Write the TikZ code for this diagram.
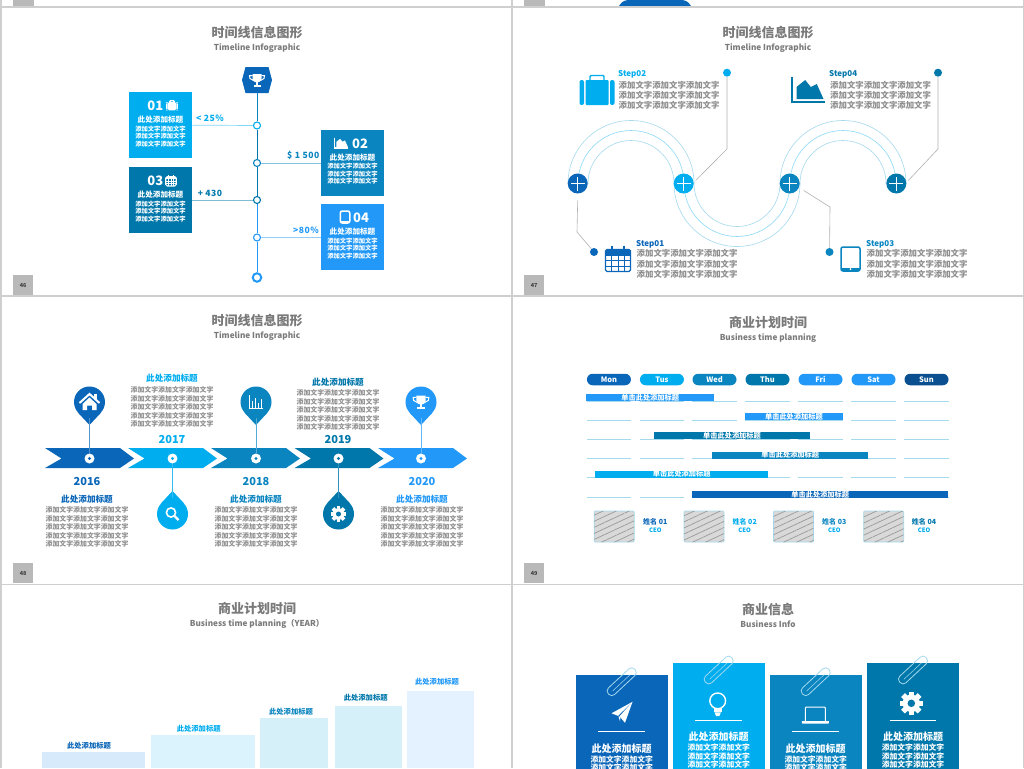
\documentclass[tikz,border=0pt]{standalone}
\usepackage{fontspec}
\setmainfont{Noto Sans CJK SC}
\usetikzlibrary{arrows.meta, calc, patterns.meta, shapes.misc}

\definecolor{blueone}{HTML}{0A66B8}
\definecolor{bluetwo}{HTML}{00ADEF}
\definecolor{bluethree}{HTML}{0A85C0}
\definecolor{bluefour}{HTML}{0077AA}
\definecolor{bluefive}{HTML}{2299F8}
\definecolor{bluesix}{HTML}{0A4F8F}
\definecolor{rimblue}{HTML}{A5D9EE}
\definecolor{pagegray}{HTML}{CFCFCF}
\definecolor{headgray}{HTML}{7A7A7A}
\definecolor{fillgray}{HTML}{8E8E8E}
\definecolor{colone}{HTML}{D6EAFB}
\definecolor{coltwo}{HTML}{DBF3FD}
\definecolor{colthree}{HTML}{D6F0FA}
\definecolor{colfive}{HTML}{E3F2FE}

\newcommand{\txtsize}[1]{\fontsize{#1}{#1}\selectfont\bfseries}
\newcommand{\rowtxt}{添加文字添加文字添加文字}
\newcommand{\shortrow}{添加文字添加文字}
\newcommand{\threerows}{\rowtxt\\\rowtxt\\\rowtxt}
\newcommand{\fiverows}{\rowtxt\\\rowtxt\\\rowtxt\\\rowtxt\\\rowtxt}
\newcommand{\shortrows}{\shortrow\\\shortrow\\\shortrow}
\newcommand{\tworows}{\shortrow\\\shortrow}
\newcommand{\headtxt}{此处添加标题}

% small icons, all given as x, y, scale, colour
\newcommand{\trophyicon}[4]{\begin{scope}[shift={(#1,#2)},scale=#3,fill=#4,draw=#4]
  \fill (-4.5,-6) -- (4.5,-6) -- (4.5,-2) .. controls (4.5,1.5) and (2,2.5) .. (0,2.5) .. controls (-2,2.5) and (-4.5,1.5) .. (-4.5,-2) -- cycle;
  \draw[line width=1pt] (-4.5,-4.5) -- (-7.5,-4.5) -- (-7,-1.5) -- (-3.5,0.5);
  \draw[line width=1pt] (4.5,-4.5) -- (7.5,-4.5) -- (7,-1.5) -- (3.5,0.5);
  \fill (-1,2) rectangle (1,5);
  \fill (-3.5,5) rectangle (3.5,6.8);
\end{scope}}
\newcommand{\caseicon}[4]{\begin{scope}[shift={(#1,#2)},scale=#3,fill=#4,draw=#4]
  \fill[rounded corners=2pt] (-17.5,-10) rectangle (-13,15);
  \fill[rounded corners=1pt] (-11.5,-10) rectangle (11.5,15);
  \fill[rounded corners=2pt] (13,-10) rectangle (17.5,15);
  \draw[line width=1.4pt,rounded corners=1pt] (-7,-10) -- (-7,-14.5) -- (7,-14.5) -- (7,-10);
\end{scope}}
\newcommand{\charticon}[4]{\begin{scope}[shift={(#1,#2)},scale=#3,fill=#4,draw=#4]
  \draw[line width=1.1pt] (-16.5,-13) -- (-16.5,12) -- (16.5,12);
  \fill (-12,9) -- (-12,-3) -- (-3.3,-10) -- (2.3,-3) -- (8.3,-6) -- (15,9) -- cycle;
\end{scope}}
\newcommand{\calicon}[4]{\begin{scope}[shift={(#1,#2)},scale=#3,fill=#4,draw=#4]
  \draw[line width=1.1pt,rounded corners=1.5pt] (-12.5,-9) rectangle (12.5,13);
  \fill (-12.5,-9) rectangle (12.5,-3);
  \foreach \gx in {-6.2,0,6.2} \draw[line width=.7pt] (\gx,-3) -- (\gx,13);
  \foreach \gy in {2.3,7.6} \draw[line width=.7pt] (-12.5,\gy) -- (12.5,\gy);
  \draw[line width=1.2pt] (-6,-13) -- (-6,-7);
  \draw[line width=1.2pt] (6,-13) -- (6,-7);
\end{scope}}
\newcommand{\padicon}[4]{\begin{scope}[shift={(#1,#2)},scale=#3,fill=#4,draw=#4]
  \draw[line width=1.5pt,rounded corners=2pt] (-9.5,-12) rectangle (9.5,12);
  \fill (-9.5,8.5) rectangle (9.5,12);
  \fill[white] (0,10.2) circle (1pt);
\end{scope}}
\newcommand{\houseicon}[4]{\begin{scope}[shift={(#1,#2)},scale=#3,fill=#4,draw=#4]
  \draw[line width=2pt] (-10,1) -- (0,-8) -- (10,1);
  \fill (-7,2) -- (0,-4.5) -- (7,2) -- (7,8) -- (2.5,8) -- (2.5,3.5) -- (-2.5,3.5) -- (-2.5,8) -- (-7,8) -- cycle;
  \fill (4,-8) rectangle (7,-3);
\end{scope}}
\newcommand{\barsicon}[4]{\begin{scope}[shift={(#1,#2)},scale=#3,fill=#4,draw=#4]
  \draw[line width=.6pt] (-7,-7) -- (-7,6.5) -- (7,6.5);
  \fill (-4.5,-1) rectangle (-2.7,5.5);
  \fill (-1.5,-4) rectangle (.3,5.5);
  \fill (1.5,1) rectangle (3.3,5.5);
  \fill (4.5,-3) rectangle (6.3,5.5);
\end{scope}}
\newcommand{\lensicon}[4]{\begin{scope}[shift={(#1,#2)},scale=#3,fill=#4,draw=#4]
  \draw[line width=1.6pt] (-1.5,-1.5) circle (4.6pt);
  \draw[line width=2.2pt] (2,2) -- (6,6);
\end{scope}}
\newcommand{\gearicon}[5]{\begin{scope}[shift={(#1,#2)},scale=#3,fill=#4,draw=#4]
  \foreach \ga in {0,45,...,315} \fill[rotate=\ga] (-1.8,-7.8) rectangle (1.8,-4);
  \fill (0,0) circle (5.8pt);
  \fill[#5] (0,0) circle (2.5pt);
\end{scope}}
\newcommand{\planeicon}[4]{\begin{scope}[shift={(#1,#2)},scale=#3,fill=#4,draw=#4]
  \fill (10.5,-10.5) -- (-10.5,1) -- (-4,3.5) -- cycle;
  \fill (10.5,-10.5) -- (-2.5,4) -- (3,10.5) -- cycle;
  \fill (-3.5,4) -- (-1.5,4.5) -- (-2,9) -- cycle;
\end{scope}}
\newcommand{\bulbicon}[4]{\begin{scope}[shift={(#1,#2)},scale=#3,fill=#4,draw=#4]
  \draw[line width=1.4pt] (0,-3) circle (7.5pt);
  \fill (-3.8,4) rectangle (3.8,7.5);
  \fill (-3,8) -- (3,8) -- (1.5,11.5) -- (-1.5,11.5) -- cycle;
\end{scope}}
\newcommand{\laptopicon}[4]{\begin{scope}[shift={(#1,#2)},scale=#3,fill=#4,draw=#4]
  \draw[line width=1pt,rounded corners=1pt] (-10,6) -- (-10,-8) -- (10,-8) -- (10,6);
  \fill[rounded corners=.5pt] (-13.5,6) rectangle (13.5,8.5);
\end{scope}}
\newcommand{\clipicon}[3]{\begin{scope}[shift={(#1,#2)},rotate=43,draw=#3]
  \draw[line width=.8pt,rounded corners=4pt] (-18,-4.5) rectangle (18,4.5);
  \draw[line width=.5pt] (-13,.6) -- (11,.6);
\end{scope}}

\tikzset{
  headline/.style={font=\txtsize{13},text=headgray,inner sep=0pt},
  subline/.style={font=\txtsize{8.2},text=headgray,inner sep=0pt},
  infobox/.style={rectangle,minimum width=63.5pt,minimum height=66pt,inner sep=0pt},
  linedot/.style={circle,draw=#1,fill=white,line width=1.1pt,minimum size=7pt,inner sep=0pt},
  plusnode/.style={circle,fill=#1,minimum size=20pt,inner sep=0pt,
    path picture={\draw[white,line width=1.5pt]
      ($(path picture bounding box.center)+(-7pt,0)$) -- ($(path picture bounding box.center)+(7pt,0)$)
      ($(path picture bounding box.center)+(0,-7pt)$) -- ($(path picture bounding box.center)+(0,7pt)$);}},
  tipdot/.style={circle,fill=#1,minimum size=8pt,inner sep=0pt},
  leader/.style={draw=gray!60,line width=.6pt},
  bodygray/.style={font=\fontsize{8.4}{10.1}\selectfont\bfseries,text=fillgray,align=left,inner sep=0pt,anchor=north west},
  bodyfive/.style={font=\fontsize{6.9}{8.5}\selectfont\bfseries,text=fillgray,align=center,inner sep=0pt},
  bodywhite/.style={font=\fontsize{6.3}{7.5}\selectfont\bfseries,text=white,align=center,inner sep=0pt},
  cardrows/.style={font=\fontsize{7.8}{8.7}\selectfont\bfseries,text=white,align=center,inner sep=0pt},
  tagtxt/.style={font=\txtsize{8.6}\addfontfeature{LetterSpace=6},text=#1,inner sep=0pt},
  hub/.style={circle,fill=white,minimum size=10pt,inner sep=0pt},
  pin/.style={circle,fill=#1,minimum size=31pt,inner sep=0pt},
  daypill/.style={rounded rectangle,fill=#1,minimum width=44pt,minimum height=11.5pt,inner sep=0pt,
    text=white,font=\txtsize{7.5},text height=5.5pt,text depth=0pt},
  taskbar/.style={rectangle,fill=#1,minimum height=7.3pt,inner sep=0pt,text=white,
    font=\txtsize{7.2},text height=6.3pt,text depth=.9pt},
  photo/.style={rectangle,rounded corners=1pt,draw=rimblue,line width=.7pt,minimum width=40pt,minimum height=31pt,
    fill=gray!30,postaction={pattern={Lines[angle=25,distance=5.5pt,line width=.7pt]},pattern color=gray!80}},
  pageno/.style={rectangle,fill=gray!55,minimum size=20.5pt,inner sep=0pt,font=\txtsize{5.5},text=black!75},
}

\begin{document}
\begin{tikzpicture}[x=1pt,y=-1pt]
  \useasboundingbox (0,0) rectangle (1024,768);
  \fill[pagegray] (0,0) rectangle (1024,768);
  % tops of the slides above
  \fill[white] (2,0) rectangle (511,6);
  \fill[white] (513,0) rectangle (1023,6);
  \fill[gray!55] (13,0) rectangle (33.5,6);
  \fill[gray!55] (524,0) rectangle (544.5,6);
  \fill[blueone] (619,6) .. controls (622,1) and (625,0) .. (630,0) -- (680,0) .. controls (685,0) and (688,1) .. (691,6) -- cycle;
  % the six white slides
  \foreach \sx/\ex in {2/511,513/1023} {
    \fill[white] (\sx,8) rectangle (\ex,295);
    \fill[white] (\sx,297) rectangle (\ex,583.5);
    \fill[white] (\sx,585) rectangle (\ex,768);
  }
  \node[pageno] (numa) at (23.2,285) {46};
  \node[pageno] (numb) at (534.2,285) {47};
  \node[pageno] (numc) at (23.2,573) {48};
  \node[pageno] (numd) at (534.2,573) {49};

  % ---- slide 46: vertical timeline
  \node[headline] (titlea) at (257,33) {时间线信息图形};
  \node[subline] (suba) at (257,48) {Timeline Infographic};
  \node[tagtxt=bluethree,anchor=west] (tagb) at (287,155) {\$ 1 500};
  \node[infobox,fill=bluetwo] (boxa) at (160.5,125) {};
  \node[infobox,fill=bluefour] (boxc) at (160.5,200) {};
  \node[infobox,fill=bluethree] (boxb) at (352.5,162.5) {};
  \node[infobox,fill=bluefive] (boxd) at (352.5,237) {};
  \fill[blueone] (245.5,67) -- (268.5,67) -- (272,80) -- (268.5,93) -- (245.5,93) -- (242,80) -- cycle;
  \coordinate (hexfoot) at (257,93);
  \trophyicon{257}{80}{1}{white}
  \node[linedot=bluetwo] (dota) at (257,125.5) {};
  \node[linedot=bluethree] (dotb) at (257,163) {};
  \node[linedot=bluefour] (dotc) at (257,200) {};
  \node[linedot=bluefive] (dotd) at (257,237.5) {};
  \node[circle,draw=bluefive,fill=white,line width=2pt,minimum size=8.5pt,inner sep=0pt] (dote) at (257,277.5) {};
  \draw[bluethree,line width=.9pt] (hexfoot) -- (dota);
  \draw[bluefour,line width=.9pt] (dota) -- (dotb);
  \draw[bluefour,line width=.9pt] (dotb) -- (dotc);
  \draw[bluefive,line width=.9pt] (dotc) -- (dotd);
  \draw[bluefive,line width=.9pt] (dotd) -- (dote);
  \draw[bluetwo!50,line width=.7pt] (boxa) -- (dota);
  \draw[bluethree!50,line width=.7pt] (boxb.west |- dotb) -- (dotb);
  \draw[bluefour!50,line width=.7pt] (boxc) -- (dotc);
  \draw[bluefive!50,line width=.7pt] (boxd.west |- dotd) -- (dotd);
  \foreach \bx/\by/\nr/\nx/\hy in {160.5/136.5/01/155.3/120, 160.5/211.5/03/155.3/195, 352.5/174/02/360/157.5, 352.5/248.5/04/361/232} {
    \node[font=\txtsize{13},text=white,inner sep=0pt] at (\nx,\by-30.5) {\nr};
    \node[font=\txtsize{7.6},text=white,inner sep=0pt] at (\bx,\hy) {\headtxt};
    \node[bodywhite] at (\bx,\by) {\shortrows};
  }
  \caseicon{172}{105.5}{.33}{white}
  \calicon{171}{180.5}{.42}{white}
  \charticon{341.5}{143}{.42}{white}
  \padicon{345}{217}{.5}{white}
  \node[tagtxt=bluetwo] (taga) at (210,118) {< 25\%};
  \node[tagtxt=bluefour] (tagc) at (210,193) {+ 430};
  \node[tagtxt=bluefive] (tagd) at (306,230) {>80\%};

  % ---- slide 47: winding path
  \node[headline] (titleb) at (768,33) {时间线信息图形};
  \node[subline] (subb) at (768,48) {Timeline Infographic};
  \foreach \rr/\cc in {63/rimblue,53/bluetwo!45,43/rimblue} {
    \draw[\cc,line width=.6pt] (631,183.5) ellipse [x radius=\rr,y radius=\rr];
    \draw[\cc,line width=.6pt] (843,183.5) ellipse [x radius=\rr,y radius=\rr];
  }
  % hide the unused half of each ring, then draw the lower one
  \fill[white] (560,183.5) rectangle (915,250);
  \foreach \rr/\cc in {63/rimblue,53/bluetwo!45,43/rimblue} {
    \begin{scope}
      \clip (660,183.5) rectangle (815,250);
      \draw[\cc,line width=.6pt] (737,183.5) ellipse [x radius=\rr,y radius=\rr];
    \end{scope}
  }
  \node[plusnode=blueone] (plusa) at (577.7,183.5) {};
  \node[plusnode=bluetwo] (plusb) at (683.7,183.5) {};
  \node[plusnode=bluethree] (plusc) at (789.7,183.5) {};
  \node[plusnode=bluefour] (plusd) at (896.3,183.5) {};
  \node[tipdot=blueone] (tipa) at (594,252) {};
  \node[tipdot=bluetwo] (tipb) at (727,72.7) {};
  \node[tipdot=bluethree] (tipc) at (829.5,252) {};
  \node[tipdot=bluefour] (tipd) at (938,72.7) {};
  \draw[leader] ($(plusa)+(0,17)$) -- (577,232) -- (tipa);
  \draw[leader] (tipb) -- (727,149) -- ($(plusb)+(12,-3)$);
  \draw[leader] ($(plusc)+(14,7)$) -- (830,207) -- (tipc);
  \draw[leader] (tipd) -- (938,149) -- ($(plusd)+(12,-3)$);
  \node[font=\txtsize{8},text=bluetwo,inner sep=0pt,anchor=west] (stepb) at (618,74) {Step02};
  \node[font=\txtsize{8},text=bluefour,inner sep=0pt,anchor=west] (stepd) at (829,74) {Step04};
  \node[font=\txtsize{8},text=blueone,inner sep=0pt,anchor=west] (stepa) at (636,244) {Step01};
  \node[font=\txtsize{8},text=bluethree,inner sep=0pt,anchor=west] (stepc) at (866,244) {Step03};
  \node[bodygray] (textb) at (618.5,81) {\threerows};
  \node[bodygray] (textd) at (830,81) {\threerows};
  \node[bodygray] (texta) at (636.5,249.5) {\threerows};
  \node[bodygray] (textc) at (866.5,249.5) {\threerows};
  \caseicon{597}{90}{1}{bluetwo}
  \charticon{808.5}{90}{1}{bluefour}
  \calicon{618}{258.5}{1}{blueone}
  \padicon{850.5}{259}{1}{bluethree}

  % ---- slide 48: arrows with pins
  \node[headline] (titlec) at (257,321) {时间线信息图形};
  \node[subline] (subc) at (257,336) {Timeline Infographic};
  \foreach \tx/\col in {45/blueone,128/bluetwo,211/bluethree,294.5/bluefour,378/bluefive}
    \fill[\col] (\tx,448) -- (\tx+75,448) -- (\tx+89,458.5) -- (\tx+75,468) -- (\tx,468) -- (\tx+16.5,458.5) -- cycle;
  \foreach \nm/\hx/\col/\yr/\lx in {a/89.5/blueone/2016/87,c/256/bluethree/2018/256,e/421/bluefive/2020/422} {
    \node[hub] (hub\nm) at (\hx,458.5) {};
    \fill[\col] (hub\nm.center) circle (1.7pt);
    \node[pin=\col] (pin\nm) at (\hx,402) {};
    \fill[\col] (pin\nm.-138) -- (\hx,425) -- (pin\nm.-42) -- cycle;
    \draw[\col!70,line width=1pt] (pin\nm) -- (hub\nm);
    \node[font=\txtsize{11},text=\col,inner sep=0pt] (year\nm) at (\lx,481) {\yr};
    \node[font=\txtsize{8.6},text=\col,inner sep=0pt] (lab\nm) at (\lx,499.3) {\headtxt};
    \node[bodyfive] (rows\nm) at (\lx,527) {\fiverows};
  }
  \foreach \nm/\hx/\col/\yr/\ly/\ry in {b/172.5/bluetwo/2017/378.7/407,d/338.5/bluefour/2019/382/410} {
    \node[hub] (hub\nm) at (\hx,458.5) {};
    \fill[\col] (hub\nm.center) circle (1.7pt);
    \node[pin=\col] (pin\nm) at (\hx,514) {};
    \fill[\col] (pin\nm.138) -- (\hx,491) -- (pin\nm.42) -- cycle;
    \draw[\col!80,line width=1pt] (pin\nm) -- (hub\nm);
    \node[font=\txtsize{11},text=\col,inner sep=0pt] (year\nm) at (\hx-.5,440) {\yr};
    \node[font=\txtsize{8.6},text=\col,inner sep=0pt] (lab\nm) at (\hx-.5,\ly) {\headtxt};
    \node[bodyfive] (rows\nm) at (\hx-.5,\ry) {\fiverows};
  }
  \houseicon{89.5}{402}{1}{white}
  \barsicon{256}{402}{1}{white}
  \trophyicon{421}{402}{1.05}{white}
  \lensicon{172.5}{514}{1}{white}
  \gearicon{338.5}{514}{1}{white}{bluefour}

  % ---- slide 49: week plan
  \node[headline] (titled) at (768,322.7) {商业计划时间};
  \node[subline] (subd) at (768,338) {Business time planning};
  \foreach \dx/\col/\dname in {586.7/blueone/Mon,639.7/bluetwo/Tus,692.3/bluethree/Wed,745.3/bluefour/Thu,798.3/bluefive/Fri,851.3/bluefive/Sat,904.3/bluesix/Sun} {
    \node[daypill=\col,anchor=west] (day\dname) at (\dx,379.5) {\dname};
    \foreach \gy in {401,420,439,458.7,477.7,497.7}
      \draw[rimblue,line width=.6pt] (\dx,\gy) -- (\dx+44.5,\gy);
  }
  \node[taskbar=bluefive,minimum width=128.3pt] (taska) at (650.2,397.7) {单击此处添加标题};
  \node[taskbar=bluefive,minimum width=97.7pt] (taskb) at (793.9,416.8) {单击此处添加标题};
  \node[taskbar=bluefour,minimum width=155.4pt] (taskc) at (732,435.8) {单击此处添加标题};
  \node[taskbar=bluethree,minimum width=155.7pt] (taskd) at (790.2,455.2) {单击此处添加标题};
  \node[taskbar=bluetwo,minimum width=172.7pt] (taske) at (681.7,474.2) {单击此处添加标题};
  \node[taskbar=blueone,minimum width=255.7pt] (taskf) at (820.2,494.3) {单击此处添加标题};
  \foreach \px/\tx/\cc/\nr in {614.2/655.3/blueone/01,704/744.7/bluetwo/02,793.5/834.3/bluethree/03,883.7/924/bluefour/04} {
    \node[photo] (photo\nr) at (\px,526.5) {};
    \node[font=\txtsize{7},text=\cc,inner sep=0pt] (name\nr) at (\tx,521.7) {姓名 \nr};
    \node[font=\txtsize{6},text=bluetwo,inner sep=0pt] (role\nr) at (\tx,530.3) {CEO};
  }

  % ---- slide 50: rising columns
  \node[headline] (titlee) at (257,609) {商业计划时间};
  \node[subline] (sube) at (257,624.3) {Business time planning（YEAR）};
  \foreach \lx/\rx/\ty/\col in {42/145.3/751.7/colone,151.3/255/735/coltwo,260.3/327.7/718/colthree,335/402/705.7/colthree,407.3/474.3/690.7/colfive}
    \fill[\col] (\lx,\ty) rectangle (\rx,768);
  \node[font=\txtsize{7.3},text=blueone,inner sep=0pt] (cola) at (89,745.3) {\headtxt};
  \node[font=\txtsize{7.3},text=bluetwo,inner sep=0pt] (colb) at (198.7,728.3) {\headtxt};
  \node[font=\txtsize{7.3},text=bluethree,inner sep=0pt] (colc) at (291,711.3) {\headtxt};
  \node[font=\txtsize{7.3},text=bluefour,inner sep=0pt] (cold) at (365.7,698) {\headtxt};
  \node[font=\txtsize{7.3},text=bluefive,inner sep=0pt] (cole) at (437,681.3) {\headtxt};

  % ---- slide 51: clipped cards
  \node[headline] (titlef) at (768,609) {商业信息};
  \node[subline] (subf) at (768,624.3) {Business Info};
  \foreach \lx/\rx/\ty/\col/\mx/\rws in {575.7/668/674.7/blueone/621.7/\tworows,673.3/765/663/bluetwo/718.7/\shortrows,770/862.3/674.7/bluethree/815.7/\tworows,867/958.7/663/bluefour/913/\shortrows} {
    \fill[\col] (\lx,\ty) rectangle (\rx,775);
    \clipicon{\mx}{\ty+7}{rimblue}
    \draw[white,line width=.7pt] (\mx-23.3,\ty+57) -- (\mx+23.3,\ty+57);
    \node[font=\txtsize{10},text=white,inner sep=0pt] at (\mx,\ty+74) {\headtxt};
    \node[cardrows,anchor=north] at (\mx,\ty+80.5) {\rws};
  }
  \planeicon{622}{712.3}{1}{white}
  \bulbicon{717.7}{704}{1.05}{white}
  \laptopicon{815.3}{715}{1}{white}
  \gearicon{911.3}{703.3}{1.5}{white}{bluefour}
\end{tikzpicture}
\end{document}
